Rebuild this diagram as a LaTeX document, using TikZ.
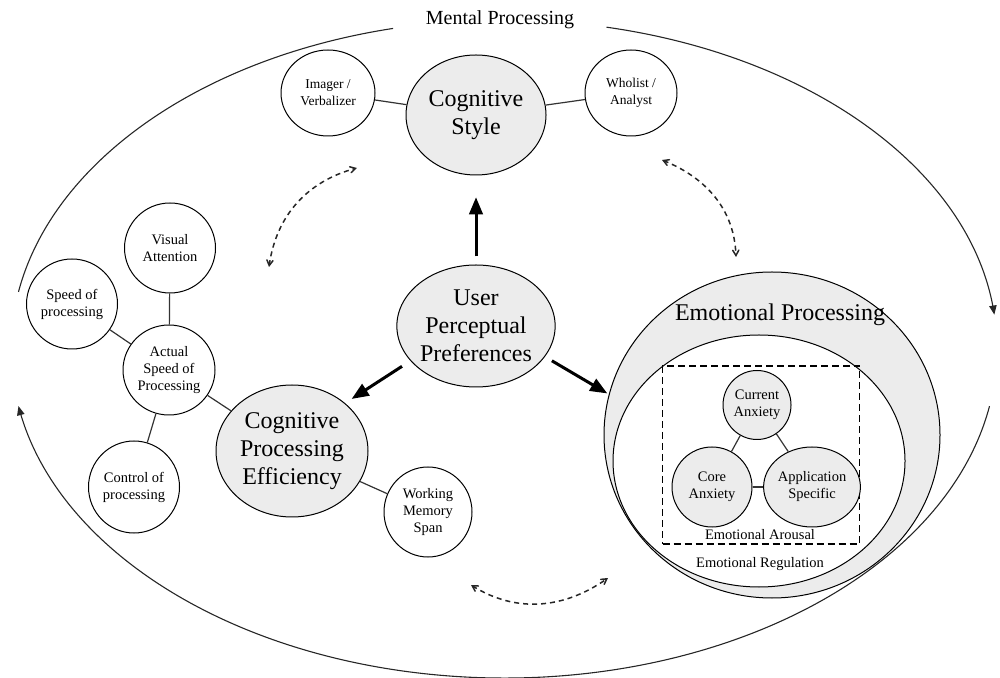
\documentclass[tikz,border=0pt]{standalone}
\usepackage{fontspec}
\setmainfont{Liberation Serif}
\usepackage{tikz}
\usetikzlibrary{arrows}
\usetikzlibrary{shapes.geometric}
\begin{document}
\begin{tikzpicture}[x=1pt, y=1pt,
  bubble/.style={draw, ellipse, fill=white, line width=1pt, inner sep=0pt,
       align=center, font=\fontsize{14.5}{17}\selectfont},
  bigbubble/.style={draw, ellipse, fill=gray!15, line width=1pt, inner sep=0pt,
       align=center, font=\fontsize{24}{28}\selectfont},
  link/.style={line width=1.2pt, black!80},
  bigarrow/.style={line width=3pt, black, ->, >=triangle 45},
  swing/.style={line width=1.5pt, black!85, <->, >=angle 60,
       dash pattern=on 5pt off 4pt},
  rim/.style={line width=1.1pt, black!85}]
\useasboundingbox (0,0) rectangle (1000,677);

\draw[rim] (504,328) ++(103:493pt and 329pt)
  arc[start angle=103, end angle=170, x radius=493pt, y radius=329pt];
\draw[rim,->,>=triangle 45] (504,328) ++(78:493pt and 329pt)
  arc[start angle=78, end angle=6, x radius=493pt, y radius=329pt];
\draw[rim,->,>=triangle 45] (504,328) ++(-10:493pt and 329pt)
  arc[start angle=-10, end angle=-170, x radius=493pt, y radius=329pt];
\draw (500, 657) node[font=\fontsize{20}{24}\selectfont] (mental) {Mental Processing};

\draw (476, 562) node[bigbubble, minimum width=140pt, minimum height=120pt] (cs) {Cognitive\\Style};
\draw (328, 584) node[bubble, minimum width=94pt, minimum height=86pt,
  font=\fontsize{13.5}{17}\selectfont] (iv) {Imager /\\Verbalizer};
\draw (631, 584) node[bubble, minimum width=92pt, minimum height=86pt,
  font=\fontsize{13.5}{17}\selectfont] (wa) {Wholist /\\Analyst};
\draw[link] (iv) -- (cs);
\draw[link] (wa) -- (cs);

\draw (476, 351) node[bigbubble, minimum width=142pt, minimum height=122pt] (upp) {User\\Perceptual\\Preferences};

\draw (292, 226) node[bigbubble, minimum width=152pt, minimum height=132pt] (cpe) {Cognitive\\Processing\\Efficiency};
\draw (170, 429) node[bubble, minimum width=91pt, minimum height=90pt] (va) {Visual\\Attention};
\draw (72, 373) node[bubble, minimum width=91pt, minimum height=90pt] (sop) {Speed of\\processing};
\draw (169, 307) node[bubble, minimum width=92pt, minimum height=90pt] (asp) {Actual\\Speed of\\Processing};
\draw (134, 190) node[bubble, minimum width=91pt, minimum height=92pt] (cop) {Control of\\processing};
\draw (428, 165) node[bubble, minimum width=88pt, minimum height=90pt] (wms) {Working\\Memory\\Span};
\draw[link] (va) -- (asp);
\draw[link] (sop) -- (asp);
\draw[link] (cop) -- (asp);
\draw[link] (cpe) -- (asp);
\draw[link] (cpe) -- (wms);

\draw (772, 242) node[bigbubble, minimum width=336pt, minimum height=326pt] (emo) {};
\draw (759, 216) node[bubble, minimum width=292pt, minimum height=252pt] (emoin) {};
\draw (780, 362) node[font=\fontsize{24}{28}\selectfont] (emotitle) {Emotional Processing};
\draw (761, 222) node[draw, line width=1.2pt, dash pattern=on 7pt off 4pt,
  minimum width=197pt, minimum height=178pt] (arousal) {};
\draw (757, 272) node[bubble, fill=gray!15, minimum width=68pt, minimum height=69pt] (ca) {Current\\Anxiety};
\draw (712, 190) node[bubble, fill=gray!15, minimum width=80pt, minimum height=80pt] (core) {Core\\Anxiety};
\draw (812, 190) node[bubble, fill=gray!15, minimum width=80pt, minimum height=80pt] (app) {Application\\Specific};
\draw[link] (ca) -- (core);
\draw[link] (ca) -- (app);
\draw[link] (core) -- (app);
\draw (760, 142) node[font=\fontsize{14.5}{17}\selectfont] (arousaltxt) {Emotional Arousal};
\draw (760, 113) node[font=\fontsize{14.5}{17}\selectfont] (regtxt) {Emotional Regulation};

\draw[bigarrow, shorten <=8pt, shorten >=22pt] (upp) -- (cs);
\draw[bigarrow, shorten <=10pt, shorten >=8pt] (upp.208) -- (cpe.42);
\draw[bigarrow, shorten <=8pt, shorten >=2pt] (upp.336) -- (emo.166);

\coordinate (sw1) at (269, 410);
\coordinate (sw2) at (357, 509);
\coordinate (se1) at (662, 517);
\coordinate (se2) at (736, 420);
\coordinate (sb1) at (471, 92);
\coordinate (sb2) at (608, 99);
\draw[swing] (sw1) to[out=82, in=195] (sw2);
\draw[swing] (se1) to[out=-22, in=92] (se2);
\draw[swing] (sb1) to[out=-32, in=215] (sb2);
\end{tikzpicture}
\end{document}
